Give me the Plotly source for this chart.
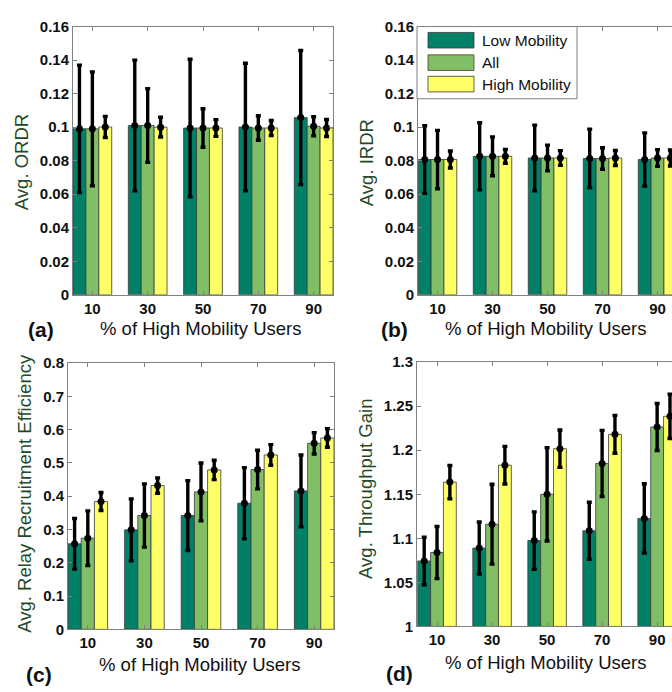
import plotly.graph_objects as go
import numpy as np

categories = ["10", "30", "50", "70", "90"]
series_names = ["Low Mobility", "All", "High Mobility"]

# (a) Avg. ORDR
ordr_low = [0.0990, 0.1010, 0.0995, 0.1001, 0.1057]
ordr_all = [0.0990, 0.1010, 0.0995, 0.0995, 0.1005]
ordr_high = [0.1001, 0.1000, 0.0995, 0.0995, 0.0995]
ordr_low_err = [0.038, 0.039, 0.041, 0.038, 0.040]
ordr_all_err = [0.034, 0.022, 0.0115, 0.0073, 0.0057]
ordr_high_err = [0.0063, 0.0059, 0.0050, 0.0045, 0.0051]

# (b) Avg. IRDR
irdr_low = [0.0807, 0.0826, 0.0816, 0.0813, 0.0807]
irdr_all = [0.0807, 0.0826, 0.0816, 0.0813, 0.0816]
irdr_high = [0.0807, 0.0826, 0.0816, 0.0816, 0.0816]
irdr_low_err = [0.0201, 0.0200, 0.0196, 0.0175, 0.0159]
irdr_all_err = [0.0174, 0.0116, 0.0077, 0.0064, 0.0050]
irdr_high_err = [0.0051, 0.0041, 0.0044, 0.0045, 0.0048]

# (c) Avg. Relay Recruitment Efficiency
rre_low = [0.257, 0.299, 0.342, 0.379, 0.416]
rre_all = [0.274, 0.342, 0.413, 0.480, 0.559]
rre_high = [0.384, 0.432, 0.479, 0.524, 0.575]
rre_low_err = [0.076, 0.093, 0.105, 0.107, 0.108]
rre_all_err = [0.082, 0.095, 0.087, 0.058, 0.032]
rre_high_err = [0.027, 0.023, 0.029, 0.031, 0.028]

# (d) Avg. Throughput Gain
tg_low = [1.0743, 1.0890, 1.0975, 1.1086, 1.1226]
tg_all = [1.0839, 1.1160, 1.1500, 1.1850, 1.2264]
tg_high = [1.1638, 1.1830, 1.2017, 1.2180, 1.2385]
tg_low_err = [0.027, 0.0295, 0.0325, 0.0323, 0.0393]
tg_all_err = [0.0296, 0.0453, 0.053, 0.0375, 0.0267]
tg_high_err = [0.0189, 0.0214, 0.0212, 0.0215, 0.0252]

colors = ["#008066", "#80BF66", "#FFFF66"]
FONT = "Arial, Liberation Sans, sans-serif"
BARGAP = 0.3

panels = [
    dict(vals=[ordr_low, ordr_all, ordr_high], errs=[ordr_low_err, ordr_all_err, ordr_high_err],
         ytitle="Avg. ORDR", yrange=[0, 0.16], dtick=0.02, xrange=[0.65, 5.35],
         xdom=[73/672, 333/672], ydom=[1-293/692, 1-18/692], clip=False),
    dict(vals=[irdr_low, irdr_all, irdr_high], errs=[irdr_low_err, irdr_all_err, irdr_high_err],
         ytitle="Avg. IRDR", yrange=[0, 0.16], dtick=0.02, xrange=[0.645, 5.263],
         xdom=[418/672, 1.0], ydom=[1-293/692, 1-18/692], clip=True),
    dict(vals=[rre_low, rre_all, rre_high], errs=[rre_low_err, rre_all_err, rre_high_err],
         ytitle="Avg. Relay Recruitment Efficiency", yrange=[0, 0.8], dtick=0.1, xrange=[0.65, 5.35],
         xdom=[68/672, 334/672], ydom=[1-636/692, 1-363/692], clip=False),
    dict(vals=[tg_low, tg_all, tg_high], errs=[tg_low_err, tg_all_err, tg_high_err],
         ytitle="Avg. Throughput Gain", yrange=[1, 1.3], dtick=0.05, xrange=[0.636, 5.27],
         xdom=[417/672, 1.0], ydom=[1-633/692, 1-362/692], clip=True),
]

fig = go.Figure()
xpos = np.arange(1, len(categories) + 1)
w = (1 - BARGAP) / 3

for i, p in enumerate(panels):
    n = "" if i == 0 else str(i + 1)
    xa, ya = "x" + n, "y" + n
    for k in range(3):
        fig.add_trace(go.Bar(
            x=xpos, y=[v - p["yrange"][0] for v in p["vals"][k]], base=p["yrange"][0],
            name=series_names[k], marker_color=colors[k],
            marker_line=dict(color="#3a3a3a", width=0.8), xaxis=xa, yaxis=ya,
            showlegend=False, offsetgroup=str(k),
        ))
    for k in range(3):
        fig.add_trace(go.Scatter(
            x=xpos + (k - 1) * w, y=p["vals"][k], mode="markers",
            marker=dict(color="black", size=7),
            error_y=dict(type="data", array=p["errs"][k], color="black", thickness=3.4, width=2.5),
            xaxis=xa, yaxis=ya, showlegend=False, hoverinfo="skip",
        ))
    axkw = dict(linecolor="#808080", linewidth=1, ticks="inside", ticklen=4, tickcolor="#808080",
                showgrid=False, zeroline=False)
    tf = dict(family=FONT, size=15, color="#111", weight="bold")
    fig.layout["xaxis" + n] = dict(
        domain=p["xdom"], anchor=ya, range=p["xrange"], tickmode="array", tickvals=list(xpos),
        ticktext=categories, mirror="ticks", showline=True, tickfont=tf, **axkw)
    fig.layout["yaxis" + n] = dict(
        domain=p["ydom"], anchor=xa, range=p["yrange"], dtick=p["dtick"], tick0=p["yrange"][0],
        mirror=False if p["clip"] else "ticks", showline=True, tickfont=tf, **axkw)

# axis titles and panel labels
ann = []
def A(text, x, y, size=18.5, angle=0, bold=False, color="#111", xanchor="center"):
    ann.append(dict(text=("<b>%s</b>" % text) if bold else text, x=x/672, y=1-y/692, xref="paper", yref="paper",
                    showarrow=False, textangle=angle, xanchor=xanchor, yanchor="middle",
                    font=dict(family=FONT, size=size, color=color)))

ycol = "#1f4a26"
A(panels[0]["ytitle"], 21, 157, angle=-90, color=ycol)
A(panels[1]["ytitle"], 366, 157, angle=-90, color=ycol)
A(panels[2]["ytitle"], 25, 497, angle=-90, color=ycol)
A(panels[3]["ytitle"], 366, 492, angle=-90, color=ycol)
A("% of High Mobility Users", 201, 328)
A("% of High Mobility Users", 546, 328)
A("% of High Mobility Users", 200, 672)
A("% of High Mobility Users", 546, 670)
A("(a)", 41, 329, size=21, bold=True)
A("(b)", 394, 329, size=21, bold=True)
A("(c)", 39, 682, size=21, bold=True)
A("(d)", 399, 681, size=21, bold=True)

# legend (drawn inside panel b)
shapes = [dict(type="rect", xref="paper", yref="paper", x0=417/672, x1=577/672, y0=1-92/692, y1=1-18/692,
               line=dict(color="#808080", width=1), fillcolor="white", layer="above")]
rows = [32, 55, 77]
for k in range(3):
    shapes.append(dict(type="rect", xref="paper", yref="paper", x0=428/672, x1=474/672,
                       y0=1-(rows[k]+8)/692, y1=1-(rows[k]-8)/692,
                       line=dict(color="#5a3a2a" if k == 1 else "#3a3a3a", width=0.8),
                       fillcolor=colors[k], layer="above"))
    A(series_names[k], 480, rows[k], size=15.5, xanchor="left")

fig.update_layout(width=672, height=692, margin=dict(l=0, r=0, t=0, b=0),
                  paper_bgcolor="white", plot_bgcolor="white", barmode="group", bargap=BARGAP, bargroupgap=0,
                  annotations=ann, shapes=shapes, showlegend=False)

fig.write_html("out.html", config={"displayModeBar": False},
               post_script="document.body.style.margin='0';document.body.style.overflow='hidden';")
